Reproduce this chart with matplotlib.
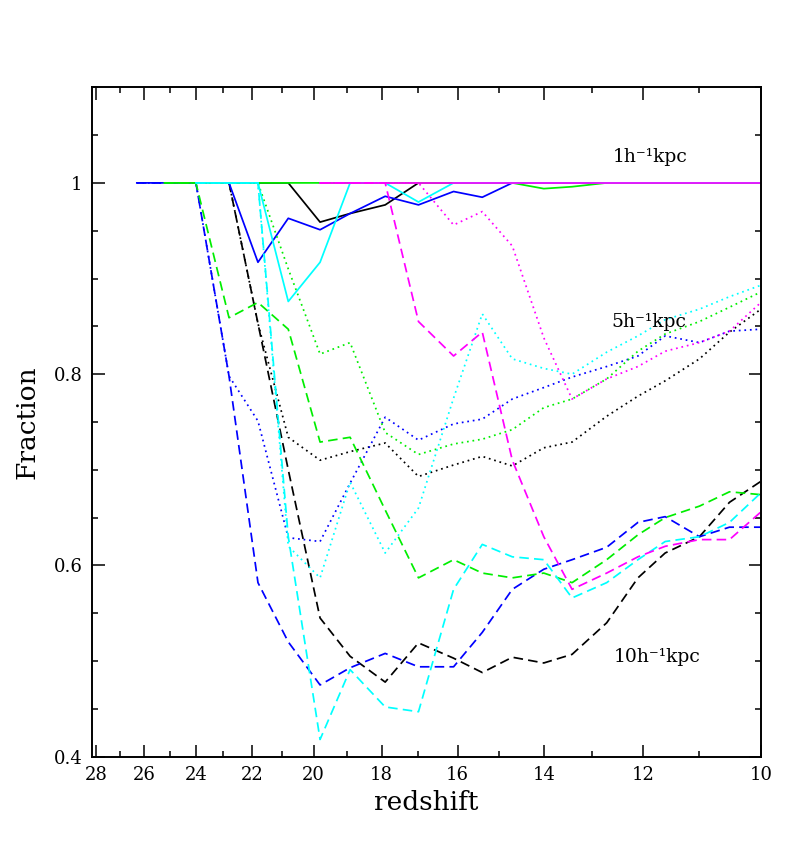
import numpy as np
from matplotlib import pyplot as plt
from matplotlib.ticker import NullFormatter

# snapshot redshifts
z = [26.3, 25.2, 24.0, 22.8, 21.8, 20.8, 19.8, 18.9, 17.9, 17.0, 16.1,
     15.4, 14.7, 14.0, 13.4, 12.7, 12.1, 11.6, 11.0, 10.5, 10.0]
n = None

# fraction per run; solid = 1 kpc, dotted = 5 kpc, dashed = 10 kpc
black_1 = [n, n, n, 1, 1, 1, .959, .968, .977, 1, 1, 1, 1, 1, 1, 1, 1, 1, 1, 1, 1]
black_5 = [n, n, n, 1, .853, .734, .710, .719, .728, .693, .705, .714, .704, .723,
           .729, .756, .777, .793, .816, .844, .868]
black_10 = [n, n, n, 1, .853, .70, .545, .505, .478, .519, .503, .488, .504, .498,
            .507, .540, .587, .613, .630, .666, .688]

blue_1 = [1, 1, 1, 1, .917, .963, .951, .968, .986, .977, .991, .985, 1, 1, 1, 1,
          1, 1, 1, 1, 1]
blue_5 = [1, 1, 1, .798, .751, .629, .625, .686, .755, .731, .748, .753, .774,
          .786, .797, .808, .819, .840, .833, .845, .847]
blue_10 = [1, 1, 1, .798, .582, .52, .475, .493, .508, .494, .494, .530, .575,
           .596, .606, .619, .645, .651, .630, .640, .640]

green_1 = [n, 1, 1, 1, 1, 1, 1, 1, 1, 1, 1, 1, 1, .994, .996, 1, 1, 1, 1, 1, 1]
green_5 = [n, 1, 1, 1, 1, .91, .821, .833, .739, .716, .727, .732, .742, .765,
           .774, .795, .824, .842, .855, .87, .886]
green_10 = [n, 1, 1, .859, .875, .847, .729, .734, .658, .587, .606, .592, .587,
            .592, .582, .606, .632, .650, .662, .677, .674]

cyan_1 = [n, n, 1, 1, 1, .876, .917, 1, 1, .98, 1, 1, 1, 1, 1, 1, 1, 1, 1, 1, 1]
cyan_5 = [n, n, 1, 1, 1, .62, .587, .687, .613, .66, .775, .863, .816, .806,
          .800, .823, .840, .857, .868, .881, .893]
cyan_10 = [n, n, 1, 1, 1, .63, .418, .491, .452, .447, .575, .622, .609, .606,
           .566, .582, .606, .625, .630, .645, .676]

magenta_1 = [n, n, n, n, n, n, 1, 1, 1, 1, 1, 1, 1, 1, 1, 1, 1, 1, 1, 1, 1]
magenta_5 = [n, n, n, n, n, n, 1, 1, 1, 1, .956, .970, .934, .838, .774, .795,
             .808, .824, .833, .845, .875]
magenta_10 = [n, n, n, n, n, n, 1, 1, 1, .855, .819, .844, .71, .630, .575,
              .592, .609, .620, .627, .627, .656]

runs = [
    ('black', black_1, black_5, black_10),
    ('#0000ff', blue_1, blue_5, blue_10),
    ('#00ee00', green_1, green_5, green_10),
    ('#00ffff', cyan_1, cyan_5, cyan_10),
    ('#ff00ff', magenta_1, magenta_5, magenta_10),
]

labels = ['1h⁻¹kpc', '5h⁻¹kpc', '10h⁻¹kpc']
label_pos = [(12.58, 1.027), (12.6, 0.855), (12.56, 0.504)]

plt.rcParams['font.family'] = 'DejaVu Serif'

fig = plt.figure(figsize=(7.88, 8.64), dpi=100)
ax = fig.add_axes([0.1171, 0.1242, 0.8486, 0.7748])


def arr(v):
    return np.array([np.nan if x is None else x for x in v], dtype=float)


for color, f1, f5, f10 in runs:
    ax.plot(z, arr(f1), color=color, lw=1.25, linestyle='-')
    ax.plot(z, arr(f5), color=color, lw=1.25, linestyle=(0, (1, 2.2)))
    ax.plot(z, arr(f10), color=color, lw=1.25, linestyle=(0, (5.5, 3)))

for txt, (x, y) in zip(labels, label_pos):
    ax.text(x, y, txt, fontsize=13.5, ha='left', va='center')

ax.set_xscale('log')
ax.set_xlim(28.18, 10)
ax.set_ylim(0.4, 1.1)

xt = [28, 26, 24, 22, 20, 18, 16, 14, 12, 10]
ax.set_xticks(xt)
ax.set_xticklabels([str(t) for t in xt])
ax.set_xticks([27, 25, 23, 21, 19, 17, 15, 13, 11], minor=True)
ax.xaxis.set_minor_formatter(NullFormatter())

ax.set_yticks([0.4, 0.6, 0.8, 1.0])
ax.set_yticklabels(['0.4', '0.6', '0.8', '1'])
ax.set_yticks(np.arange(0.45, 1.1, 0.05), minor=True)

ax.tick_params(which='both', direction='in', top=True, right=True,
               labelsize=13, width=1.1)
ax.tick_params(which='major', length=9, pad=7)
ax.tick_params(which='minor', length=4.5)
for s in ax.spines.values():
    s.set_linewidth(1.4)

ax.set_xlabel('redshift', fontsize=19, labelpad=4)
ax.set_ylabel('Fraction', fontsize=19, labelpad=10)

fig.savefig('out.png', dpi=100)
